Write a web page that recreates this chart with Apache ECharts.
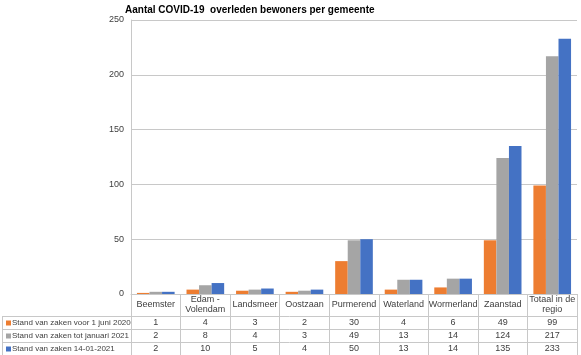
<!DOCTYPE html>
<html><head><meta charset="utf-8">
<script src="https://cdn.jsdelivr.net/npm/echarts@6/dist/echarts.min.js"></script>
<style>html,body{margin:0;padding:0;background:#fff}#c{width:581px;height:355px}</style>
</head><body><div id="c"></div>
<script>
const categories = ['Beemster', 'Edam -\nVolendam', 'Landsmeer', 'Oostzaan', 'Purmerend', 'Waterland', 'Wormerland', 'Zaanstad', 'Totaal in de\nregio'];
const seriesNames = ['Stand van zaken voor 1 juni 2020', 'Stand van zaken tot januari 2021', 'Stand van zaken 14-01-2021'];
const juni2020 = [1, 4, 3, 2, 30, 4, 6, 49, 99];
const januari2021 = [2, 8, 4, 3, 49, 13, 14, 124, 217];
const jan14_2021 = [2, 10, 5, 4, 50, 13, 14, 135, 233];
const yTicks = [0, 50, 100, 150, 200, 250];
const colors = ['#ED7D31', '#A5A5A5', '#4472C4'];

const seriesData = [juni2020, januari2021, jan14_2021];
const FONT = 'Liberation Sans';
const gridLeft = 131, gridRight = 4, gridTop = 20, axisY = 294;
const rowY = [316, 329, 342, 355];
const lineColor = '#c8c8c8';

const chart = echarts.init(document.getElementById('c'), null, {renderer: 'canvas'});
chart.setOption({
  animation: false,
  title: {
    text: 'Aantal COVID-19  overleden bewoners per gemeente',
    left: 120, top: 0,
    textStyle: {fontFamily: FONT, fontSize: 10, fontWeight: 'bold', color: '#000'}
  },
  grid: {left: gridLeft, right: gridRight, top: gridTop, bottom: 355 - axisY},
  xAxis: {
    type: 'category', data: categories,
    axisLine: {lineStyle: {color: lineColor}},
    axisTick: {show: true, length: 61, lineStyle: {color: lineColor}},
    axisLabel: {fontFamily: FONT, fontSize: 9, color: '#404040', lineHeight: 10, margin: 11, verticalAlign: 'middle', interval: 0}
  },
  yAxis: {
    type: 'value', min: 0, max: yTicks[yTicks.length - 1], interval: 50,
    axisLine: {show: true, lineStyle: {color: lineColor}},
    axisTick: {show: false},
    splitLine: {lineStyle: {color: '#c8c8c8'}},
    axisLabel: {fontFamily: FONT, fontSize: 9, color: '#404040', margin: 7}
  },
  series: seriesData.map((d, i) => ({
    type: 'bar', name: seriesNames[i], data: d,
    itemStyle: {color: colors[i]},
    barGap: '0%', barCategoryGap: '24%'
  }))
});

// data table below axis, built from the arrays
const g = [];
rowY.forEach(y => g.push({type: 'line', shape: {x1: 2, y1: y + 0.5, x2: 581 - gridRight, y2: y + 0.5}, style: {stroke: lineColor, lineWidth: 1}}));
g.push({type: 'line', shape: {x1: 2.5, y1: rowY[0], x2: 2.5, y2: rowY[3]}, style: {stroke: lineColor}});
g.push({type: 'line', shape: {x1: gridLeft + 0.5, y1: axisY, x2: gridLeft + 0.5, y2: rowY[3]}, style: {stroke: lineColor}});
seriesData.forEach((d, r) => {
  const cy = (rowY[r] + rowY[r + 1]) / 2 + 0.5;
  g.push({type: 'rect', shape: {x: 6, y: cy - 2.5, width: 5, height: 5}, style: {fill: colors[r]}});
  g.push({type: 'text', style: {text: seriesNames[r], x: 12, y: cy, fontFamily: FONT, fontSize: 8, fill: '#404040', verticalAlign: 'middle'}});
  d.forEach((v, i) => {
    const px = chart.convertToPixel({xAxisIndex: 0}, i);
    g.push({type: 'text', style: {text: String(v), x: px, y: cy, fontFamily: FONT, fontSize: 9, fill: '#404040', align: 'center', verticalAlign: 'middle'}});
  });
});
chart.setOption({graphic: g});
</script></body></html>
